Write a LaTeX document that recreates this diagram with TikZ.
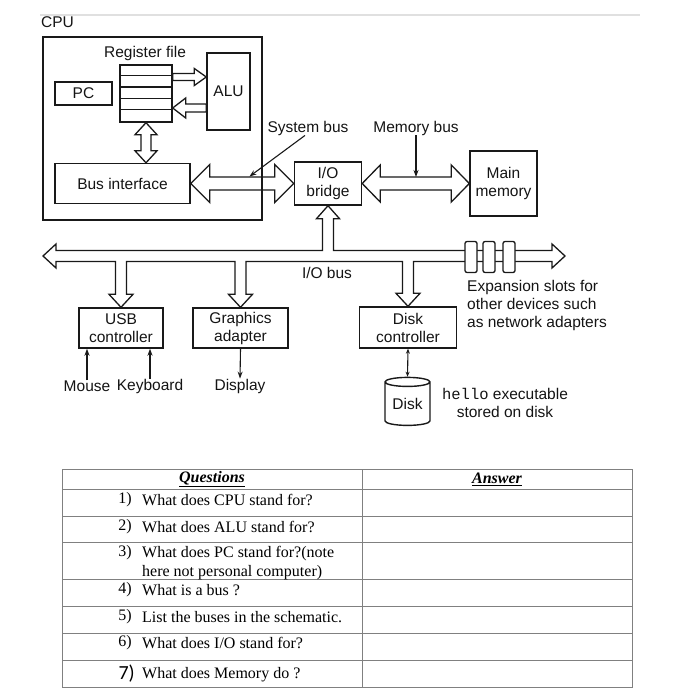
\documentclass[tikz,border=0pt]{standalone}
\usepackage{fontspec}
\setmainfont{Liberation Serif}
\setsansfont{Liberation Sans}
\setmonofont{Liberation Mono}
\newfontfamily\carlito{Carlito}
\usetikzlibrary{calc,arrows.meta,shapes.geometric}
\def\fatarrow[#1](#2)(#3)(#4:#5:#6){\coordinate (fatbase) at ($(#3)!#6!(#2)$);
	\draw[#1] ($(#2)!#4!90:(#3)$) -- ($(fatbase)!#4!90:(#3)$) -- ($(fatbase)!#5!90:(#3)$) -- (#3) -- ($(fatbase)!#5!-90:(#3)$) -- ($(fatbase)!#4!-90:(#3)$) -- ($(#2)!#4!-90:(#3)$) -- cycle;}
\def\fatdarrow[#1](#2)(#3)(#4:#5:#6){\coordinate (fatbaseA) at ($(#2)!#6!(#3)$); \coordinate (fatbaseB) at ($(#3)!#6!(#2)$);
	\draw[#1] (#2) -- ($(fatbaseA)!#5!90:(#3)$) -- ($(fatbaseA)!#4!90:(#3)$) -- ($(fatbaseB)!#4!90:(#3)$) -- ($(fatbaseB)!#5!90:(#3)$) -- (#3) -- ($(fatbaseB)!#5!-90:(#3)$) -- ($(fatbaseB)!#4!-90:(#3)$) -- ($(fatbaseA)!#4!-90:(#3)$) -- ($(fatbaseA)!#5!-90:(#3)$) -- cycle;}
\def\busdrop#1{-- ($(#1.north |- busL)+(5.5,5.5)$) -- ($(#1.north)+(5.5,-13)$) -- ++(6.5,0) -- (#1.north) -- ($(#1.north)+(-12,-13)$) -- ++(6.5,0) -- ($(#1.north |- busL)+(-5.5,5.5)$)}
\tikzset{
	diag/.style={font=\sffamily\fontsize{15.5}{18}\selectfont, text=black!92},
	unitbox/.style={diag, draw=black!90, line width=1.4pt, align=center, inner sep=0pt},
	fatbus/.style={draw=black!90, line width=1.3pt, fill=white, line join=miter},
	pointer/.style={-{Stealth[length=7pt,width=5pt]}, line width=1.1pt, black!90},
	tablerule/.style={draw=black!50, line width=1pt},
	qtext/.style={font=\fontsize{16}{19}\selectfont, anchor=west, align=left, inner sep=0pt},
	qnum/.style={font=\fontsize{16}{19}\selectfont, anchor=east, inner sep=0pt},
}
\begin{document}
\begin{tikzpicture}[x=1pt, y=-1pt]
	\useasboundingbox (0,0) rectangle (698,700);
	%%%%% START %%%%%
	
	\draw[black!12, line width=2.5pt] (40,15) -- (640,15);
	
	\node[diag, anchor=west, inner sep=0pt] (cpulbl) at (41,22) {CPU};
	\node[diag, inner sep=0pt] (reglbl) at (145,53) {Register file};
	\node[unitbox, minimum width=52, minimum height=57] (regfile) at (146,93.5) {};
	\foreach \r in {1,...,4}
		\draw[black!90, line width=1.2pt] ($(regfile.north west)+(0,\r*11.4)$) -- ($(regfile.north east)+(0,\r*11.4)$);
	\node[unitbox, minimum width=57, minimum height=23] (pc) at (83.5,93.5) {PC};
	\node[unitbox, minimum width=43, minimum height=77] (alu) at (228.5,91.5) {ALU};
	\node[unitbox, minimum width=135, minimum height=40] (busif) at (122.5,183.5) {Bus interface};
	\node[unitbox, minimum width=67, minimum height=43] (bridge) at (328,183.5) {I/O\\bridge};
	\node[unitbox, minimum width=67, minimum height=65] (mem) at (503.5,183.5) {Main\\memory};
	
	\coordinate (rega) at ($(regfile.east)+(0,-16.5)$);
	\coordinate (alua) at (alu.west |- rega);
	\coordinate (regb) at ($(regfile.east)+(0,14.5)$);
	\coordinate (alub) at (alu.west |- regb);
	\coordinate (busifn) at (regfile.south |- busif.north);
	\fatarrow[fatbus](rega)(alua)(3.5pt:8.5pt:12pt);
	\fatarrow[fatbus](alub)(regb)(4pt:10pt:13pt);
	\fatdarrow[fatbus](regfile.south)(busifn)(5pt:11pt:12pt);
	\fatdarrow[fatbus](busif.east)(bridge.west)(6.5pt:19pt:19pt);
	\fatdarrow[fatbus](bridge.east)(mem.west)(6.5pt:18.5pt:18pt);
	
	\node[draw=black!90, line width=1.6pt, minimum width=219, minimum height=183] (cpu) at (152.5,128.5) {};
	
	\node[diag, inner sep=0pt] (sysbuslbl) at (308,128) {System bus};
	\node[diag, inner sep=0pt] (membuslbl) at (416,128) {Memory bus};
	\coordinate (systip) at ($(busif.east)!0.57!(bridge.west)+(0,-7)$);
	\coordinate (memtip) at ($(bridge.east)+(0,-6.5)$);
	\draw[pointer] ([xshift=-3pt]sysbuslbl.south) -- (systip);
	\draw[pointer] (membuslbl.south) -- (membuslbl.south |- memtip);
	
	\node[unitbox, minimum width=84, minimum height=40] (usb) at (121,328) {USB\\controller};
	\node[unitbox, minimum width=95, minimum height=40] (gfx) at (240.5,328) {Graphics\\adapter};
	\node[unitbox, minimum width=97, minimum height=41] (diskctl) at (408,327.5) {Disk\\controller};
	
	% I/O bus with its branches
	\coordinate (busL) at (43,256);
	\coordinate (busR) at (565,256);
	\draw[fatbus] (busL) -- ++(13,-12) -- ++(0,6.5)
		-- ($(bridge.south |- busL)+(-5.5,-5.5)$) -- ($(bridge.south)+(-5.5,13)$) -- ++(-6,0) -- (bridge.south) -- ($(bridge.south)+(11.5,13)$) -- ++(-6,0) -- ($(bridge.south |- busL)+(5.5,-5.5)$)
		-- ($(busR)+(-13,-5.5)$) -- ++(0,-6.5) -- (busR) -- ++(-13,12) -- ++(0,-6.5)
		\busdrop{diskctl} \busdrop{gfx} \busdrop{usb}
		-- ($(busL)+(13,5.5)$) -- ++(0,6.5) -- cycle;
	\foreach \sx [count=\i] in {471,489,509}
		\node[draw=black!90, line width=1.3pt, fill=white, rounded corners=2pt, minimum width=12, minimum height=31, inner sep=0pt] (slot\i) at (\sx,257) {};
	\node[diag, inner sep=0pt] (iobuslbl) at (327,273) {I/O bus};
	\node[diag, anchor=west, align=left, inner sep=0pt] (explbl) at (467,305) {Expansion slots for\\other devices such\\as network adapters};
	
	\node[diag, inner sep=0pt] (mouse) at (87,386) {Mouse};
	\node[diag, inner sep=0pt] (keyboard) at (150,386) {Keyboard};
	\node[diag, inner sep=0pt] (display) at (240,386) {Display};
	\draw[pointer] (mouse.north) -- (mouse.north |- usb.south);
	\draw[pointer] (keyboard.north) -- (keyboard.north |- usb.south);
	\draw[pointer] (gfx.south) -- (display.north);
	
	\node[diag, draw=black!90, line width=1.4pt, cylinder, shape border rotate=90, aspect=0.3, minimum width=45, minimum height=48, inner sep=0pt] (disk) at (407.5,404) {Disk};
	\draw[{Stealth[length=5pt,width=4pt]}-{Stealth[length=5pt,width=4pt]}, line width=1.1pt, black!90] (diskctl.south) -- (disk.north);
	\node[diag, align=center, inner sep=0pt] (hellolbl) at (505,402.5) {{\ttfamily hello} executable\\stored on disk};
	
	% questions table
	\draw[tablerule] (62,469) rectangle (632,687);
	\draw[tablerule] (362,469) -- (362,687);
	\foreach \ry in {489,516,542,579,606,633,660}
		\draw[tablerule] (62,\ry) -- (632,\ry);
	\node[font=\fontsize{16}{19}\selectfont\bfseries\itshape] (qhead) at (212,479) {\underline{Questions}};
	\node[font=\fontsize{16}{19}\selectfont\bfseries\itshape] (ahead) at (497,479) {\underline{Answer}};
	\foreach \n/\q/\ny in {1/{What does CPU stand for?}/500, 2/{What does ALU stand for?}/527, 4/{What is a bus ?}/590, 5/{List the buses in the schematic.}/617, 6/{What does I/O stand for?}/643}{
		\node[qnum] (num\n) at (132,\ny) {\n)};
		\node[qtext] (q\n) at (142,\ny) {\q};
	}
	\node[qnum] (num3) at (132,553) {3)};
	\node[qtext, anchor=north west] (q3) at (142,546) {What does PC stand for?(note\\here not personal computer)};
	\node[qnum, font=\carlito\fontsize{20}{20}\selectfont] (num7) at (135,674) {7)};
	\node[qtext] (q7) at (142,675) {What does Memory do ?};
	
	%%%%% END %%%%%
\end{tikzpicture}
\end{document}
